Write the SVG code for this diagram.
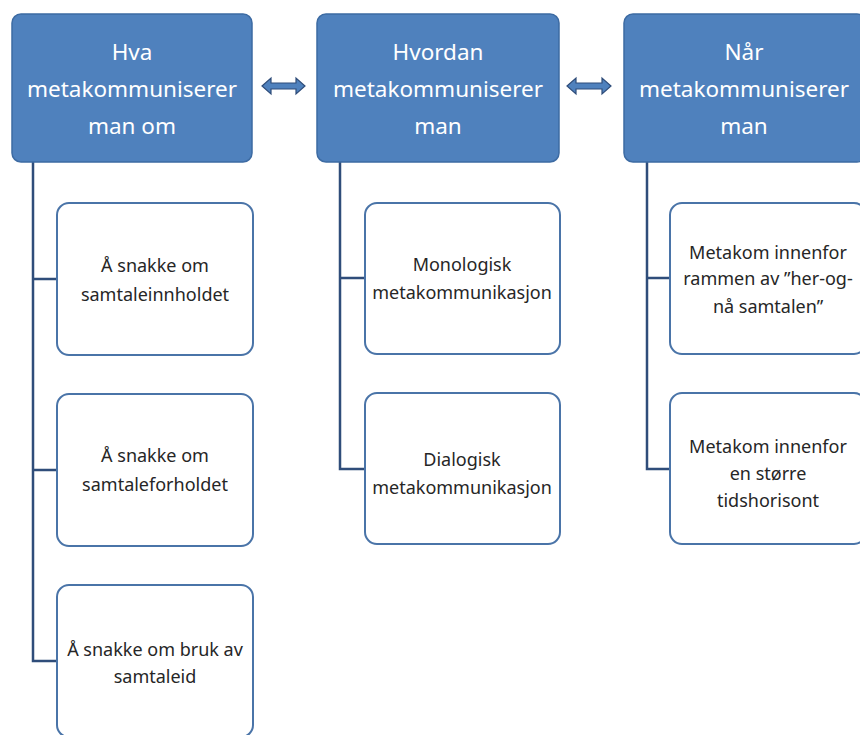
<svg xmlns="http://www.w3.org/2000/svg" width="860" height="735" viewBox="0 0 860 735">
<style>
.hdr rect{fill:#4f81bd;stroke:#3d6ba3;stroke-width:1.5}
.hdr text{fill:#fff;font-family:"Noto Sans","Open Sans",sans-serif;font-size:22.5px;text-anchor:middle}
.ch rect{fill:#fff;stroke:#4a74a8;stroke-width:2}
.ch text{fill:#262626;font-family:"Noto Sans","Open Sans",sans-serif;font-size:18px;text-anchor:middle}
.con path{fill:none;stroke:#2f4d7a;stroke-width:2.5}
.arr{fill:#4f81bd;stroke:#2f4d7a;stroke-width:1.2}
</style>
<rect width="860" height="735" fill="#fff"/>
<g class="con">
<path d="M33 162 V661 H57 M33 279 H57 M33 470 H57"/>
<path d="M340 162 V469 H365 M340 278 H365"/>
<path d="M647 162 V469 H670 M647 278 H670"/>
</g>
<g id="arrow1"><polygon class="arr" points="262,86 271,78 271,83 296,83 296,78 305,86 296,94 296,89 271,89 271,94"/></g>
<g id="arrow2"><polygon class="arr" points="567,86 576,78 576,83 602,83 602,78 611,86 602,94 602,89 576,89 576,94"/></g>
<g id="h1" class="hdr"><rect x="12" y="14" width="240" height="148" rx="9"/>
<text x="132" y="60">Hva</text><text x="132" y="97">metakommuniserer</text><text x="132" y="134">man om</text></g>
<g id="h2" class="hdr"><rect x="317" y="14" width="242" height="148" rx="9"/>
<text x="438" y="60">Hvordan</text><text x="438" y="97">metakommuniserer</text><text x="438" y="134">man</text></g>
<g id="h3" class="hdr"><rect x="624" y="14" width="242" height="148" rx="9"/>
<text x="744" y="60">Når</text><text x="744" y="97">metakommuniserer</text><text x="744" y="134">man</text></g>
<g id="c1a" class="ch"><rect x="57" y="203" width="196" height="152" rx="12"/>
<text x="155" y="272">Å snakke om</text><text x="155" y="301">samtaleinnholdet</text></g>
<g id="c1b" class="ch"><rect x="57" y="394" width="196" height="152" rx="12"/>
<text x="155" y="462">Å snakke om</text><text x="155" y="491">samtaleforholdet</text></g>
<g id="c1c" class="ch"><rect x="57" y="585" width="196" height="152" rx="12"/>
<text x="155" y="656">Å snakke om bruk av</text><text x="155" y="683">samtaleid</text></g>
<g id="c2a" class="ch"><rect x="365" y="203" width="195" height="151" rx="12"/>
<text x="462" y="271">Monologisk</text><text x="462" y="299">metakommunikasjon</text></g>
<g id="c2b" class="ch"><rect x="365" y="393" width="195" height="151" rx="12"/>
<text x="462" y="466">Dialogisk</text><text x="462" y="494">metakommunikasjon</text></g>
<g id="c3a" class="ch"><rect x="670" y="203" width="196" height="151" rx="12"/>
<text x="768" y="259">Metakom innenfor</text><text x="768" y="285">rammen av ”her-og-</text><text x="768" y="313">nå samtalen”</text></g>
<g id="c3b" class="ch"><rect x="670" y="393" width="196" height="151" rx="12"/>
<text x="768" y="453">Metakom innenfor</text><text x="768" y="480">en større</text><text x="768" y="507">tidshorisont</text></g>
</svg>
